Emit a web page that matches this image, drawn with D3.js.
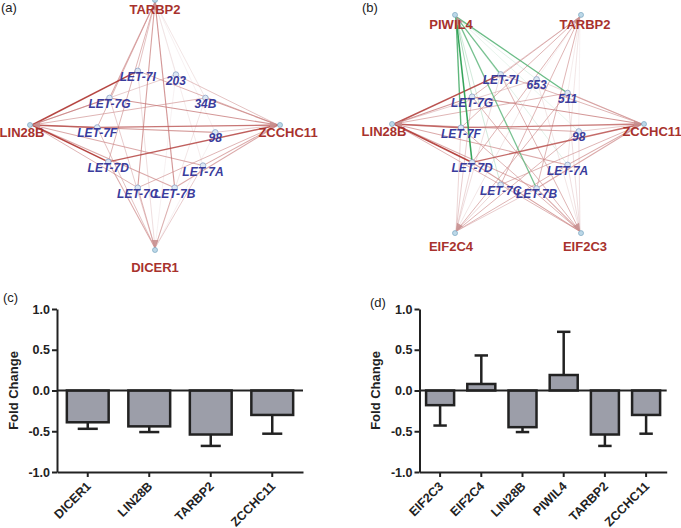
<!DOCTYPE html>
<html><head><meta charset="utf-8">
<script src="https://cdn.jsdelivr.net/npm/d3@7"></script>
<style>
body{margin:0;background:#fff}
svg{display:block}
text{font-family:"Liberation Sans",Arial,sans-serif}
</style>
</head><body>
<svg id="fig" width="681" height="528"></svg>
<script>
// ---------- Network (a) ----------
const hubLabelsA = ["TARBP2", "LIN28B", "ZCCHC11", "DICER1"];
const hubAnglesA = [-90, 180, 0, 90]; // layout angle (deg) on the unit circle
const mirLabelsA = ["LET-7I", "203", "LET-7G", "34B", "LET-7F", "98", "LET-7D", "LET-7A", "LET-7C", "LET-7B"];
const mirXA = [-0.14, 0.17, -0.37, 0.41, -0.47, 0.49, -0.38, 0.39, -0.14, 0.16]; // layout units
const mirYA = [-0.44, -0.41, -0.22, -0.22, 0.02, 0.06, 0.30, 0.33, 0.51, 0.51];
const weightsA = [
  [0.4, 0.1, 0.5, 0.2, 0.45, 0.1, 0.45, 0.15, 0.55, 0.6],     // TARBP2
  [0.95, 0.35, 0.6, 0.45, 0.8, 0.55, 0.95, 0.5, 0.45, 0.5],   // LIN28B
  [0.45, 0.4, 0.6, 0.55, 0.75, 0.35, 0.85, 0.5, 0.45, 0.5],   // ZCCHC11
  [0.25, 0.1, 0.35, 0.2, 0.4, 0.1, 0.5, 0.35, 0.45, 0.45]     // DICER1
];

// ---------- Network (b) ----------
const hubLabelsB = ["PIWIL4", "TARBP2", "LIN28B", "ZCCHC11", "EIF2C4", "EIF2C3"];
const hubAnglesB = [-120, -60, 180, 0, 120, 60];
const mirLabelsB = ["LET-7I", "653", "LET-7G", "511", "LET-7F", "98", "LET-7D", "LET-7A", "LET-7C", "LET-7B"];
const mirXB = [-0.14, 0.15, -0.37, 0.40, -0.46, 0.49, -0.37, 0.40, -0.14, 0.15];
const mirYB = [-0.40, -0.36, -0.22, -0.25, 0.03, 0.06, 0.31, 0.33, 0.49, 0.52];
const weightsB = [
  [0.7, 0.2, 0.45, 0.75, 0.8, 0.15, 0.95, 0.2, 0.3, 0.7],     // PIWIL4 (green)
  [0.35, 0.1, 0.45, 0.15, 0.45, 0.1, 0.45, 0.2, 0.45, 0.45],  // TARBP2
  [0.9, 0.35, 0.6, 0.45, 0.8, 0.5, 0.95, 0.5, 0.45, 0.5],     // LIN28B
  [0.45, 0.3, 0.6, 0.5, 0.7, 0.35, 0.8, 0.5, 0.45, 0.5],      // ZCCHC11
  [0.25, 0.2, 0.35, 0.45, 0.3, 0.45, 0.3, 0.45, 0.3, 0.35],   // EIF2C4
  [0.45, 0.2, 0.45, 0.25, 0.45, 0.25, 0.55, 0.25, 0.45, 0.5]  // EIF2C3
];
const greenHub = "PIWIL4";

// ---------- Bar charts ----------
const yTicks = [-1.0, -0.5, 0.0, 0.5, 1.0];
const barCatsC = ["DICER1", "LIN28B", "TARBP2", "ZCCHC11"];
const barValsC = [-0.39, -0.44, -0.54, -0.30];
const barErrC  = [0.08, 0.07, 0.14, 0.23];
const barCatsD = ["EIF2C3", "EIF2C4", "LIN28B", "PIWIL4", "TARBP2", "ZCCHC11"];
const barValsD = [-0.18, 0.08, -0.45, 0.19, -0.54, -0.30];
const barErrD  = [0.25, 0.35, 0.06, 0.53, 0.14, 0.23];

const svg = d3.select("#fig");

function drawNetwork(cfg) {
  const g = svg.append("g");
  const sx = d3.scaleLinear().domain([-1, 1]).range([cfg.cx - cfg.r, cfg.cx + cfg.r]);
  const sy = d3.scaleLinear().domain([-1, 1]).range([cfg.cy - cfg.r, cfg.cy + cfg.r]);
  const hubs = cfg.hubs.map((name, i) => {
    const a = cfg.angles[i] * Math.PI / 180;
    return {name, ux: Math.cos(a), uy: Math.sin(a), x: sx(Math.cos(a)), y: sy(Math.sin(a))};
  });
  const mirs = cfg.mirs.map((name, i) => ({name, x: sx(cfg.mx[i]), y: sy(cfg.my[i])}));
  const edges = [];
  hubs.forEach((h, i) => mirs.forEach((m, j) => edges.push({h, m, w: cfg.weights[i][j], green: h.name === greenHub})));
  edges.sort((a, b) => a.w - b.w);
  const red = d3.interpolateRgb("#ece3e6", "#ad2f2b");
  const grn = d3.interpolateRgb("#dcede3", "#1f9a48");
  g.selectAll("line.edge").data(edges).join("line")
    .attr("x1", d => d.m.x).attr("y1", d => d.m.y)
    .attr("x2", d => d.h.x).attr("y2", d => d.h.y)
    .attr("stroke", d => (d.green ? grn : red)(d.w))
    .attr("stroke-opacity", d => 0.5 + 0.45 * d.w)
    .attr("stroke-width", d => 0.45 + 1.15 * d.w);
  // hub arrow markers
  g.selectAll("path.arrow").data(hubs).join("path")
    .attr("d", "M0,0 L-8,-3.5 L-8,3.5 Z")
    .attr("transform", d => `translate(${d.x},${d.y}) rotate(${Math.atan2(d.uy, d.ux) * 180 / Math.PI})`)
    .attr("fill", "#c89090").attr("opacity", 0.9);
  g.selectAll("circle.hub").data(hubs).join("circle")
    .attr("cx", d => d.x + d.ux * 2).attr("cy", d => d.y + d.uy * 2).attr("r", 2.5)
    .attr("fill", "#bcd8e8").attr("stroke", "#7aa6c0").attr("stroke-width", 0.7);
  g.selectAll("circle.mir").data(mirs).join("circle")
    .attr("cx", d => d.x).attr("cy", d => d.y).attr("r", 2.8)
    .attr("fill", "#dde8f3").attr("stroke", "#8ea3c6").attr("stroke-width", 0.8);
  g.selectAll("text.mir").data(mirs).join("text")
    .attr("x", d => d.x).attr("y", d => d.y + 10)
    .attr("text-anchor", "middle")
    .attr("font-size", 12).attr("font-weight", "bold").attr("font-style", "italic")
    .attr("fill", "#3a3c9c")
    .text(d => d.name);
  g.selectAll("text.hub").data(hubs).join("text")
    .attr("x", d => d.x + d.ux * 10)
    .attr("y", d => d.y + 12 + (d.uy > 0 ? 12 * Math.pow(d.uy, 3) : 0))
    .attr("text-anchor", "middle")
    .attr("font-size", 13).attr("font-weight", "bold")
    .attr("fill", "#a8322d")
    .text(d => d.name);
}

drawNetwork({cx: 155, cy: 125, r: 123, hubs: hubLabelsA, angles: hubAnglesA,
  mirs: mirLabelsA, mx: mirXA, my: mirYA, weights: weightsA});
drawNetwork({cx: 518, cy: 124, r: 124, hubs: hubLabelsB, angles: hubAnglesB,
  mirs: mirLabelsB, mx: mirXB, my: mirYB, weights: weightsB});

function drawBars(cats, vals, errs, x0, x1) {
  const g = svg.append("g");
  const x = d3.scaleBand().domain(cats).range([x0, x1]).paddingInner(0.32).paddingOuter(0.16);
  const y = d3.scaleLinear().domain([-1, 1]).range([472, 309]);
  const data = cats.map((c, i) => ({c, v: vals[i], e: errs[i]}));
  const bw = x.bandwidth();
  const eb = g.selectAll("g.err").data(data).join("g");
  eb.append("line")
    .attr("x1", d => x(d.c) + bw / 2).attr("x2", d => x(d.c) + bw / 2)
    .attr("y1", d => y(d.v)).attr("y2", d => y(d.v + Math.sign(d.v) * d.e))
    .attr("stroke", "#222").attr("stroke-width", 2.5);
  eb.append("line")
    .attr("x1", d => x(d.c) + bw / 2 - bw * 0.24).attr("x2", d => x(d.c) + bw / 2 + bw * 0.24)
    .attr("y1", d => y(d.v + Math.sign(d.v) * d.e)).attr("y2", d => y(d.v + Math.sign(d.v) * d.e))
    .attr("stroke", "#222").attr("stroke-width", 2.5);
  g.selectAll("rect").data(data).join("rect")
    .attr("x", d => x(d.c)).attr("width", bw)
    .attr("y", d => y(Math.max(0, d.v))).attr("height", d => Math.abs(y(d.v) - y(0)))
    .attr("fill", "#9c9ea9").attr("stroke", "#222").attr("stroke-width", 2.5);
  g.append("line").attr("x1", x0).attr("x2", x1).attr("y1", y(0)).attr("y2", y(0))
    .attr("stroke", "#222").attr("stroke-width", 1.8);
  const ya = g.append("g").attr("transform", `translate(${x0},0)`)
    .call(d3.axisLeft(y).tickValues(yTicks).tickFormat(d => d.toFixed(1)).tickSize(5).tickPadding(2).tickSizeOuter(0));
  const xa = g.append("g").attr("transform", `translate(0,${y(-1)})`)
    .call(d3.axisBottom(x).tickSize(5).tickSizeOuter(0));
  [ya, xa].forEach(a => {
    a.select(".domain").attr("stroke", "#222").attr("stroke-width", 2);
    a.selectAll(".tick line").attr("stroke", "#222").attr("stroke-width", 2);
    a.selectAll("text").attr("font-family", "Liberation Sans, Arial, sans-serif")
      .attr("font-size", 12.5).attr("font-weight", "bold").attr("fill", "#222");
  });
  xa.selectAll(".tick text")
    .attr("text-anchor", "end").attr("x", 4).attr("y", 15).attr("dy", 0)
    .attr("transform", "rotate(-45,4,15)");
  g.append("text")
    .attr("transform", `translate(${x0 - 44},${y(0)}) rotate(-90)`)
    .attr("text-anchor", "middle").attr("dy", "0.35em")
    .attr("font-size", 13).attr("font-weight", "bold").attr("fill", "#222")
    .text("Fold Change");
}

drawBars(barCatsC, barValsC, barErrC, 57, 303);
drawBars(barCatsD, barValsD, barErrD, 419.5, 666.7);

// panel letters
const panelLetters = ["(a)", "(b)", "(c)", "(d)"];
const letterPos = [[1, 12], [362, 12], [3, 302], [370, 307]];
svg.selectAll("text.panel").data(panelLetters).join("text")
  .attr("x", (d, i) => letterPos[i][0]).attr("y", (d, i) => letterPos[i][1])
  .attr("font-size", 13).attr("fill", "#222")
  .text(d => d);
</script>
</body></html>
